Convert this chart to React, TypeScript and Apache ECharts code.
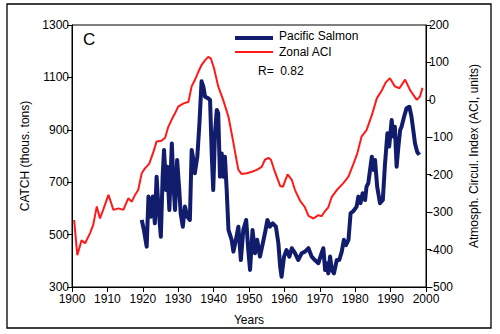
import React, { useEffect, useRef } from "react";
import * as echarts from "echarts";

const salmonYears = [
  1919.7, 1920.3, 1921.1, 1921.6, 1922.2, 1922.8, 1923.4, 1923.9, 1924.4, 1925.1,
  1925.6, 1926.0, 1926.6, 1926.9, 1927.5, 1928.2, 1928.6, 1929.1, 1929.7, 1930.3,
  1930.7, 1931.3, 1931.9, 1932.6, 1933.3, 1933.8, 1934.3, 1934.7, 1935.4, 1936.0,
  1936.6, 1937.1, 1937.6, 1938.5, 1939.0, 1939.5, 1939.9, 1940.4, 1940.9, 1941.3,
  1941.8, 1942.3, 1942.7, 1943.2, 1943.7, 1944.2, 1945.1, 1945.6, 1946.3, 1947.0,
  1947.7, 1948.4, 1949.2, 1949.8, 1950.3, 1951.0, 1951.7, 1952.3, 1953.1, 1953.9,
  1954.5, 1955.2, 1955.9, 1956.7, 1957.6, 1958.3, 1958.8, 1959.2, 1959.9, 1960.6,
  1961.4, 1962.1, 1963.0, 1963.9, 1964.9, 1965.8, 1966.8, 1967.7, 1968.6, 1969.6,
  1970.5, 1971.0, 1971.5, 1971.9, 1972.4, 1972.9, 1973.4, 1974.0, 1974.8, 1975.5,
  1976.2, 1976.8, 1977.4, 1978.1, 1978.7, 1979.5, 1980.4, 1980.9, 1981.5, 1982.1,
  1982.8, 1983.2, 1983.7, 1984.2, 1984.7, 1985.1, 1985.6, 1986.2, 1987.0, 1987.8,
  1988.4, 1989.1, 1989.6, 1990.3, 1990.8, 1991.2, 1991.7, 1992.2, 1992.7, 1993.1,
  1993.8, 1994.5, 1995.3, 1995.9, 1996.4, 1996.9, 1997.5, 1998.1,
];
const salmonCatch = [
  556, 518, 454, 645, 568, 645, 543, 721, 607, 492,
  721, 823, 670, 759, 594, 848, 708, 594, 785, 670,
  581, 530, 607, 568, 556, 823, 785, 734, 797, 925,
  1085, 1065, 1026, 1020, 1014, 797, 670, 887, 976, 963,
  721, 810, 721, 797, 670, 518, 480, 435, 480, 530,
  403, 518, 556, 441, 365, 518, 429, 480, 416, 467,
  505, 556, 530, 543, 530, 467, 378, 339, 416, 441,
  416, 448, 429, 403, 429, 435, 448, 416, 403, 391,
  429, 448, 365, 391, 352, 416, 365, 352, 403, 403,
  435, 480, 460, 480, 581, 590, 607, 645, 620, 658,
  632, 683, 696, 747, 797, 747, 785, 683, 620, 632,
  766, 887, 836, 937, 874, 912, 759, 836, 899, 912,
  950, 982, 988, 950, 899, 848, 816, 804,
];

const aciYears = [
  1900.6, 1901.5, 1902.7, 1903.7, 1905.1, 1906.0, 1907.0, 1907.9, 1908.8, 1910.3,
  1911.7, 1913.1, 1914.5, 1915.9, 1916.9, 1917.8, 1918.7, 1919.7, 1920.6, 1921.8,
  1923.0, 1923.9, 1925.3, 1926.3, 1927.2, 1928.2, 1929.1, 1930.0, 1931.4, 1932.9,
  1933.8, 1934.7, 1935.7, 1936.6, 1937.6, 1938.5, 1939.2, 1940.1, 1941.3, 1942.7,
  1944.2, 1945.6, 1946.3, 1947.0, 1947.9, 1949.4, 1950.8, 1952.2, 1953.6, 1954.5,
  1955.5, 1956.2, 1957.3, 1958.8, 1959.6, 1960.9, 1962.1, 1963.0, 1964.4, 1965.8,
  1966.8, 1968.2, 1969.6, 1970.5, 1971.5, 1972.4, 1973.4, 1974.8, 1976.6, 1978.1,
  1979.5, 1980.6, 1981.8, 1983.2, 1984.7, 1986.1, 1987.5, 1988.6, 1989.8, 1991.2,
  1992.5, 1994.1, 1995.5, 1997.4, 1998.3, 1999.0,
];
const aciIndex = [
  -321, -415, -375, -383, -356, -334, -285, -317, -294, -254,
  -294, -290, -294, -263, -272, -254, -241, -196, -183, -171,
  -139, -111, -109, -101, -72, -52, -36, -18, -10, -5,
  36, 53, 75, 93, 106, 115, 111, 85, 36, 0,
  -45, -115, -152, -187, -198, -196, -192, -187, -179, -160,
  -155, -160, -192, -230, -232, -199, -214, -241, -269, -287,
  -310, -317, -308, -311, -297, -287, -259, -241, -223, -205,
  -171, -143, -98, -81, -41, 4, 25, 46, 58, 36,
  31, 54, 26, 0, 9, 32,
];

const leftTicks = [300, 1300, 200];
const rightTicks = [-500, 200, 100];
const xTicks = [1900, 2000, 10];

const FONT = "'Liberation Sans', Arial, sans-serif";
const BLUE = "#111c6c";
const RED = "#ff1a1a";

export default function App() {
  const ref = useRef<HTMLDivElement>(null);
  useEffect(() => {
    if (!ref.current) return;
    const chart = echarts.init(ref.current, null, { renderer: "svg" });
    const salmonData = salmonYears.map((y, i) => [y, salmonCatch[i]]);
    const aciData = aciYears.map((y, i) => [y, aciIndex[i]]);
    const axisCommon = {
      axisLine: { show: true, onZero: false, lineStyle: { color: "#000", width: 1 } },
      axisTick: { show: true, inside: false, length: 5, lineStyle: { color: "#000" } },
      splitLine: { show: false },
      axisLabel: { color: "#000", fontSize: 12, lineHeight: 11, fontFamily: FONT, margin: 3, formatter: (v: number) => String(v) },
      nameTextStyle: { color: "#000", fontSize: 12, fontFamily: FONT },
    };
    chart.setOption({
      animation: false,
      backgroundColor: "#fff",
      grid: {
        left: 72, top: 25, right: 74, bottom: 47,
        show: true, borderColor: "#000", borderWidth: 1, backgroundColor: "transparent",
      },
      xAxis: {
        type: "value",
        min: xTicks[0], max: xTicks[1], interval: xTicks[2],
        name: "Years", nameLocation: "middle", nameGap: 27,
        ...axisCommon,
        axisLabel: { ...axisCommon.axisLabel, margin: 6 },
      },
      yAxis: [
        {
          type: "value",
          min: leftTicks[0], max: leftTicks[1], interval: leftTicks[2],
          name: "CATCH (thous. tons)", nameLocation: "middle", nameGap: 38, nameRotate: 90,
          position: "left",
          ...axisCommon,
        },
        {
          type: "value",
          min: rightTicks[0], max: rightTicks[1], interval: rightTicks[2],
          name: "Atmosph. Circul. Index (ACI, units)", nameLocation: "middle", nameGap: 42, nameRotate: 90,
          position: "right",
          ...axisCommon,
        },
      ],
      series: [
        {
          type: "line", name: "Zonal ACI", yAxisIndex: 1, data: aciData,
          showSymbol: false, lineStyle: { color: RED, width: 2 }, z: 2,
        },
        {
          type: "line", name: "Pacific Salmon", yAxisIndex: 0, data: salmonData,
          showSymbol: false, lineStyle: { color: BLUE, width: 4, join: "round" }, z: 3,
        },
      ],
      graphic: [
        { type: "rect", shape: { x: 7, y: 4, width: 484, height: 324 }, style: { fill: "none", stroke: "#000", lineWidth: 1.3 }, silent: true },
        { type: "text", x: 83, y: 39, style: { text: "C", fontSize: 17, fontFamily: FONT, fill: "#000", verticalAlign: "middle" } },
        { type: "line", shape: { x1: 235, y1: 38, x2: 273, y2: 38 }, style: { stroke: BLUE, lineWidth: 4 } },
        { type: "text", x: 279, y: 36, style: { text: "Pacific Salmon", fontSize: 12, fontFamily: FONT, fill: "#000", verticalAlign: "middle" } },
        { type: "line", shape: { x1: 235, y1: 52, x2: 273, y2: 52 }, style: { stroke: RED, lineWidth: 2 } },
        { type: "text", x: 279, y: 52, style: { text: "Zonal ACI", fontSize: 12, fontFamily: FONT, fill: "#000", verticalAlign: "middle" } },
        { type: "text", x: 258, y: 71, style: { text: "R=  0.82", fontSize: 12, fontFamily: FONT, fill: "#000", verticalAlign: "middle" } },
      ],
    });
    return () => chart.dispose();
  }, []);
  return <div ref={ref} style={{ position: "fixed", left: 0, top: 0, width: 500, height: 334 }} />;
}
